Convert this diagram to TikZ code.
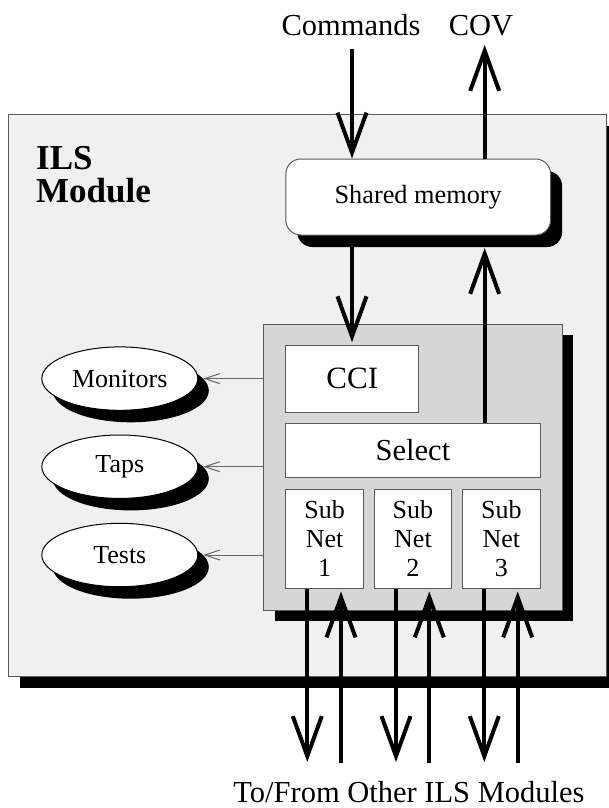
\documentclass[tikz,border=0pt]{standalone}
\usepackage{fontspec}
\setmainfont{Liberation Serif}
\usetikzlibrary{arrows.meta,shadows,shapes.geometric,calc}
\definecolor{panel}{HTML}{F0F0F0}
\definecolor{core}{HTML}{D6D6D6}
\definecolor{rim}{HTML}{5A5A5A}
\definecolor{feedgray}{HTML}{666666}
\begin{document}
\begin{tikzpicture}[x=1pt,y=-1pt,
  hardshadow/.style={drop shadow={shadow xshift=#1,shadow yshift=-#1,fill=black,opacity=1}},
  plate/.style={draw=rim,line width=1pt,inner sep=0pt},
  box/.style={plate,fill=white,font=\fontsize{30.5}{33}\selectfont},
  subbox/.style={box,minimum width=77.5pt,minimum height=98.7pt,align=center,
    font=\fontsize{26}{29}\selectfont},
  oval/.style={ellipse,draw=black,line width=1pt,fill=white,inner sep=0pt,
    minimum width=156pt,minimum height=63.4pt,font=\fontsize{26}{29}\selectfont,
    drop shadow={shadow xshift=11pt,shadow yshift=-12pt,fill=black,opacity=1}},
  bus/.style={line width=4pt,-{Straight Barb[length=40pt,width=29pt,sharp]}},
  feed/.style={draw=feedgray,line width=1pt,shorten >=5pt,
    -{Straight Barb[length=15pt,width=10pt,sharp]}},
  lbl/.style={font=\fontsize{30.5}{33}\selectfont,inner sep=0pt},
  head/.style={font=\bfseries\fontsize{35}{38}\selectfont,inner sep=0pt}
]
\path[use as bounding box] (0,0) rectangle (608,808);

% module frame
\node[plate,fill=panel,minimum width=597.6pt,minimum height=561.7pt,hardshadow=11.5pt]
  (module) at (307.5,395.15) {};
\node[head,anchor=base west] (ils) at (36,169) {ILS};
\node[head,anchor=base west] (mod) at (36,202) {Module};

% shared memory
\node[box,rounded corners=15pt,minimum width=264.8pt,minimum height=76pt,
  font=\fontsize{26.3}{29}\selectfont,
  drop shadow={shadow xshift=11.5pt,shadow yshift=-12pt,fill=black,opacity=1}]
  (sm) at (418.2,197) {Shared memory};

% core block
\node[plate,fill=core,minimum width=298.5pt,minimum height=286pt,hardshadow=11pt]
  (core) at (412.95,467) {};
\node[box,minimum width=133pt,minimum height=66.3pt,font=\fontsize{31}{33}\selectfont]
  (cci) at (352.3,378.85) {CCI};
\node[box,minimum width=254.3pt,minimum height=54.4pt] (sel) at (412.95,450.5) {Select};
\node[subbox] (sub1) at (324.55,538.65) {Sub\\Net\\1};
\node[subbox] (sub2) at (412.95,538.65) {Sub\\Net\\2};
\node[subbox] (sub3) at (501.35,538.65) {Sub\\Net\\3};

% outputs on the left
\node[oval] (mon) at (119.8,378.6) {Monitors};
\node[oval] (taps) at (119.8,466.7) {Taps};
\node[oval] (tests) at (119.8,555) {Tests};
\draw[feed] (core.west |- mon) -- (mon.east);
\draw[feed] (core.west |- taps) -- (taps.east);
\draw[feed] (core.west |- tests) -- (tests.east);

% external labels
\node[lbl,anchor=base] (cmdlbl) at (351,36) {Commands};
\node[lbl,anchor=base] (covlbl) at (481,36) {COV};
\node[lbl,anchor=base] (extlbl) at (409,802) {To/From Other ILS Modules};

% command / COV paths
\coordinate (cmdsrc) at (352,49);
\coordinate (covtip) at (484.7,45);
\coordinate (smfoot) at ($(sm.south)+(0,12.5)$);
\draw[bus] (cmdsrc) -- (cmdsrc |- sm.north);
\draw[bus] (sm.north -| covtip) -- (covtip);
\draw[bus] (sm.south -| cmdsrc) -- ([yshift=3pt]cmdsrc |- cci.north);
\draw[bus] (sel.north -| covtip) -- (covtip |- smfoot);

% links to other modules
\coordinate (d1) at (307.3,762);
\coordinate (d2) at (396,762);
\coordinate (d3) at (484.3,762);
\coordinate (u1) at (341,763.3);
\coordinate (u2) at (429.3,763.3);
\coordinate (u3) at (517.7,763.3);
\draw[bus] (d1 |- sub1.south) -- (d1);
\draw[bus] (d2 |- sub2.south) -- (d2);
\draw[bus] (d3 |- sub3.south) -- (d3);
\draw[bus,shorten >=3pt] (u1) -- (u1 |- sub1.south);
\draw[bus,shorten >=3pt] (u2) -- (u2 |- sub2.south);
\draw[bus,shorten >=3pt] (u3) -- (u3 |- sub3.south);
\end{tikzpicture}
\end{document}
